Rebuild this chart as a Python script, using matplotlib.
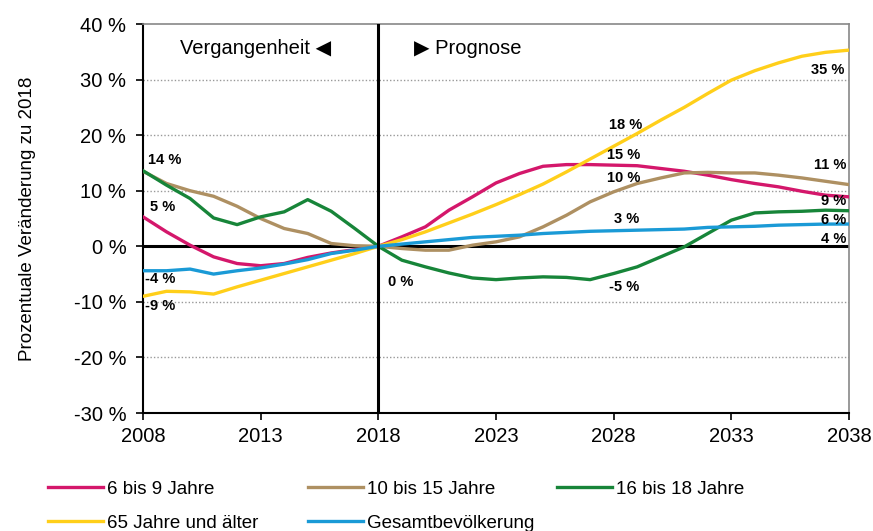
import matplotlib
matplotlib.use("Agg")
import matplotlib.pyplot as plt

plt.rcParams['font.family'] = ['Liberation Sans', 'DejaVu Sans']

years = list(range(2008, 2039))

# Prozentuale Veraenderung zu 2018
age_6_9 = [5.3, 2.6, 0.2, -1.9, -3.1, -3.5, -3.1, -2.0, -1.2, -0.6, 0.0,
           1.7, 3.5, 6.5, 8.9, 11.4, 13.1, 14.4, 14.7, 14.7, 14.6,
           14.5, 14.0, 13.5, 12.8, 12.0, 11.3, 10.7, 9.9, 9.2, 8.9]
age_10_15 = [13.5, 11.3, 10.0, 9.0, 7.2, 5.0, 3.2, 2.3, 0.5, 0.1, 0.0,
             -0.4, -0.7, -0.7, 0.2, 0.8, 1.7, 3.5, 5.6, 8.0, 9.8,
             11.3, 12.3, 13.2, 13.3, 13.2, 13.2, 12.8, 12.3, 11.7, 11.1]
age_16_18 = [13.6, 11.0, 8.6, 5.1, 3.9, 5.3, 6.2, 8.4, 6.3, 3.2, 0.0,
             -2.5, -3.7, -4.8, -5.7, -6.0, -5.7, -5.5, -5.6, -6.0, -4.9,
             -3.7, -1.9, -0.1, 2.3, 4.7, 6.0, 6.2, 6.3, 6.5, 6.4]
age_65 = [-9.0, -8.1, -8.2, -8.6, -7.3, -6.1, -4.9, -3.7, -2.5, -1.3, 0.0,
          1.2, 2.6, 4.2, 5.8, 7.5, 9.3, 11.2, 13.4, 15.7, 18.0,
          20.3, 22.7, 25.0, 27.5, 29.9, 31.6, 33.0, 34.2, 34.9, 35.3]
total = [-4.4, -4.4, -4.1, -5.0, -4.4, -3.9, -3.2, -2.4, -1.3, -0.7, 0.0,
         0.4, 0.8, 1.2, 1.6, 1.8, 2.0, 2.3, 2.5, 2.7, 2.8,
         2.9, 3.0, 3.1, 3.4, 3.5, 3.6, 3.8, 3.9, 4.0, 4.0]

series = [
    ("6 bis 9 Jahre", age_6_9, "#D4176B"),
    ("10 bis 15 Jahre", age_10_15, "#AE9062"),
    ("16 bis 18 Jahre", age_16_18, "#178539"),
    ("65 Jahre und älter", age_65, "#FFCF1A"),
    ("Gesamtbevölkerung", total, "#1A9AD6"),
]

fig = plt.figure(figsize=(8.73, 5.31), dpi=100)
ax = fig.add_axes([0.1638, 0.2222, 0.8087, 0.7326])

for y in [-20, -10, 10, 20, 30]:
    ax.axhline(y, color="#999999", lw=1, ls=(0, (1, 1.5)), zorder=1)

lines = {}
for name, vals, col in series:
    lines[name], = ax.plot(years, vals, color=col, lw=2.4, label=name, zorder=3)

ax.axhline(0, color="black", lw=2.2, zorder=2)
ax.axvline(2018, color="black", lw=2.2, zorder=4)

ax.set_xlim(2008, 2038)
ax.set_ylim(-30, 40)
ax.set_xticks(range(2008, 2039, 5))
ax.set_yticks(range(-30, 41, 10))
ax.set_yticklabels([f"{v} %" for v in range(-30, 41, 10)])
ax.tick_params(axis="both", labelsize=14.5, length=5, width=1.2, direction="out")
ax.tick_params(axis="y", pad=7)
ax.tick_params(axis="x", pad=5)
ax.set_ylabel("Prozentuale Veränderung zu 2018", fontsize=13.5)
ax.yaxis.set_label_coords(-0.152, 0.5)

for s in ["top", "right"]:
    ax.spines[s].set_color("#888888")
    ax.spines[s].set_linewidth(1.2)
for s in ["left", "bottom"]:
    ax.spines[s].set_linewidth(1.5)

ax.text(2016.0, 35.6, "Vergangenheit \u25C0", ha="right", va="center", fontsize=14.5)
ax.text(2019.5, 35.6, "\u25B6 Prognose", ha="left", va="center", fontsize=14.5)

lab = dict(fontsize=10.5, fontweight="bold", zorder=5)
ax.text(2008.2, 15.5, "14 %", ha="left", va="center", **lab)
ax.text(2008.3, 7.0, "5 %", ha="left", va="center", **lab)
ax.text(2008.1, -5.8, "-4 %", ha="left", va="center", **lab)
ax.text(2008.1, -10.8, "-9 %", ha="left", va="center", **lab)
ax.text(2018.4, -6.5, "0 %", ha="left", va="center", **lab)
ax.text(2027.8, 21.8, "18 %", ha="left", va="center", **lab)
ax.text(2027.7, 16.4, "15 %", ha="left", va="center", **lab)
ax.text(2027.7, 12.2, "10 %", ha="left", va="center", **lab)
ax.text(2028.0, 5.0, "3 %", ha="left", va="center", **lab)
ax.text(2027.8, -7.4, "-5 %", ha="left", va="center", **lab)
ax.text(2037.8, 31.7, "35 %", ha="right", va="center", **lab)
ax.text(2037.9, 14.6, "11 %", ha="right", va="center", **lab)
ax.text(2037.9, 8.1, "9 %", ha="right", va="center", **lab)
ax.text(2037.9, 4.7, "6 %", ha="right", va="center", **lab)
ax.text(2037.9, 1.4, "4 %", ha="right", va="center", **lab)

# legend: one column each, as in the original layout
columns = [["6 bis 9 Jahre", "65 Jahre und älter"],
           ["10 bis 15 Jahre", "Gesamtbevölkerung"],
           ["16 bis 18 Jahre"]]
col_x = [48 / 873, 308 / 873, 557 / 873]
for names, x0 in zip(columns, col_x):
    fig.legend([lines[n] for n in names], names, loc="upper left",
               bbox_to_anchor=(x0, 0.095), frameon=False, fontsize=13.5,
               handlelength=2.95, handletextpad=0.2, labelspacing=0.92,
               borderpad=0, borderaxespad=0)

fig.savefig("out.png", dpi=100)
